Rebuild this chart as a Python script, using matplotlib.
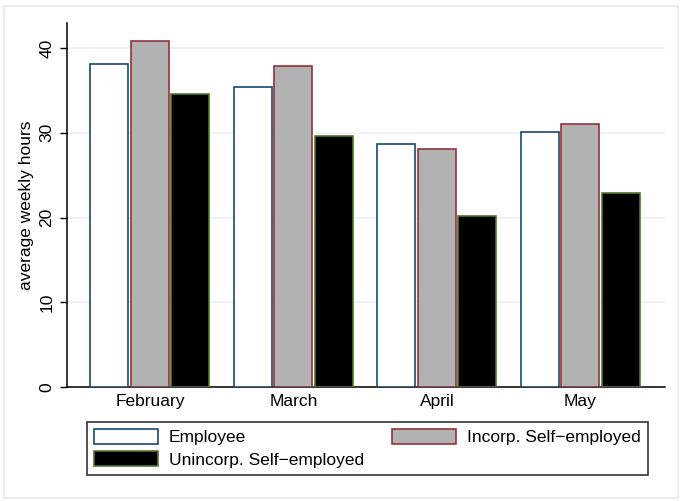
import numpy as np
import matplotlib
matplotlib.use("Agg")
import matplotlib.pyplot as plt
from matplotlib.patches import Rectangle

plt.rcParams['font.family'] = ['Liberation Sans', 'DejaVu Sans']

months = ["February", "March", "April", "May"]
series_names = ["Employee", "Incorp. Self\u2212employed", "Unincorp. Self\u2212employed"]
employee = [38.1, 35.4, 28.7, 30.1]
incorp = [40.8, 37.9, 28.1, 31.0]
unincorp = [34.6, 29.6, 20.2, 22.9]
yticks = [0, 10, 20, 30, 40]

fills = ["white", "#b2b2b2", "black"]
edges = ["#1a476f", "#90353b", "#55752f"]

fig = plt.figure(figsize=(6.85, 5.01), dpi=100)
fig.patch.set_facecolor("white")
# light outer frame like Stata's graph region
fig.add_artist(Rectangle((0.006, 0.006), 0.984, 0.982, transform=fig.transFigure,
                         fill=False, edgecolor="#e6eded", linewidth=1.5))

ax = fig.add_axes([0.0978, 0.2275, 0.873, 0.7265])
x = np.arange(len(months))
width = 0.265
step = 0.282
bars = []
for i, vals in enumerate([employee, incorp, unincorp]):
    b = ax.bar(x + (i - 1) * step, vals, width, color=fills[i], edgecolor=edges[i],
               linewidth=1.2, label=series_names[i], zorder=3)
    bars.append(b)

ax.set_xlim(-0.578, 3.59)
ax.set_ylim(0, 42.95)
ax.set_xticks(x)
ax.set_xticklabels(months, fontsize=12.5)
ax.tick_params(axis="x", length=0, pad=5)
ax.set_yticks(yticks)
ax.set_yticklabels([str(t) for t in yticks], rotation=90, va="center", fontsize=12.5)
ax.tick_params(axis="y", length=5, width=1, pad=4)
ax.grid(axis="y", color="#eaf0f0", linewidth=1.2, zorder=0)
ax.set_axisbelow(True)
for s in ["top", "right"]:
    ax.spines[s].set_visible(False)
ax.spines["left"].set_linewidth(1.1)
ax.spines["bottom"].set_linewidth(1.1)
ax.set_ylabel("average weekly hours", fontsize=12.5, labelpad=4)

handles = [bars[0], bars[2], bars[1]]
labels = [series_names[0], series_names[2], series_names[1]]
leg = fig.legend(handles, labels, ncol=2, loc="upper left",
                 bbox_to_anchor=(87 / 685, 1 - 422 / 501), bbox_transform=fig.transFigure,
                 borderaxespad=0, fontsize=12.5, frameon=True, fancybox=False, edgecolor="black",
                 handlelength=3.7, handleheight=0.95, handletextpad=0.62,
                 columnspacing=1.6, labelspacing=0.35, borderpad=0.4)
leg.get_frame().set_linewidth(1.2)

fig.savefig("out.png", dpi=100)
